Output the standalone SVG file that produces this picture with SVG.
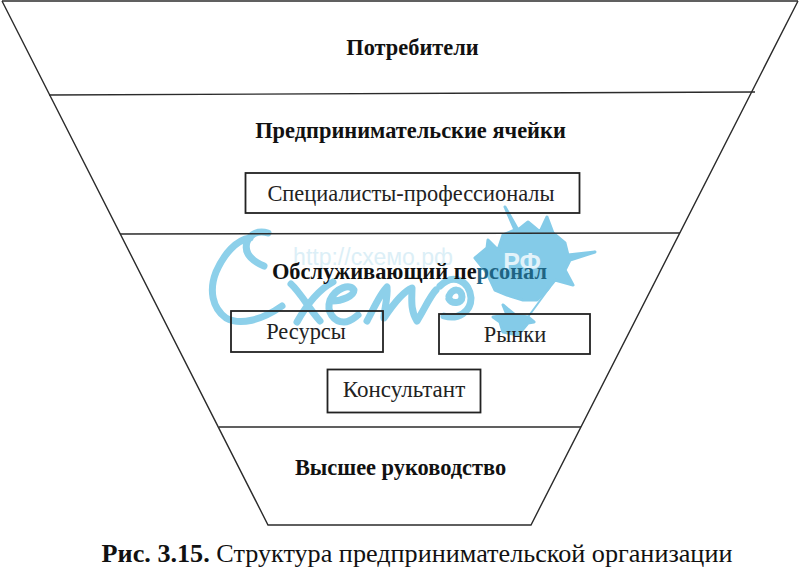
<svg xmlns="http://www.w3.org/2000/svg" width="800" height="568" viewBox="0 0 800 568">
<style>
.l{fill:none;stroke:#2b2b2b;stroke-width:1.4}
.b{fill:none;stroke:#222;stroke-width:1.8}
.h{font-family:"Liberation Serif",serif;font-weight:700;font-size:22.400px;fill:#111;text-anchor:middle}
.t{font-family:"Liberation Serif",serif;font-size:22.400px;fill:#222;text-anchor:middle}
.w{fill:none;stroke:#8dd0ea;stroke-width:7;stroke-linecap:round;stroke-linejoin:round}
.s{fill:#84cbe8;stroke:#84cbe8;stroke-width:3;stroke-linejoin:round}
</style>
<rect width="800" height="568" fill="#fff"/>
<g id="watermark">
<path class="w" d="M268 233C258 230 250 234 247 242C244 252 250 260 264 266"/>
<path class="w" d="M250 238C236 240 224 254 216 272C209 290 212 308 226 318C240 326 262 320 282 306"/>
<path class="w" d="M291 284C300 292 310 310 320 321M333 282C318 290 306 306 297 322"/>
<path class="w" d="M332 301C342 301 354 296 354 290C350 283 336 288 330 300C326 312 334 322 344 322C350 322 354 318 358 315"/>
<path class="w" d="M367 321C374 308 380 294 387 287C388 298 384 310 384 318C392 306 402 292 412 288C412 298 410 310 417 321C424 310 430 296 436 290"/>
<path class="w" d="M440 286C454 272 470 282 471 298C471 312 458 320 444 316M449 296C452 288 462 288 462 297C462 304 452 304 449 299"/>
<path class="s" d="M505 207L518 230L528 222L540 232L547 217L553 233L565 243L568 255L595 252L570 260L565 270L573 285L555 280L547 290L537 300L523 300L507 295L495 290L487 273L475 258L487 248L488 240L498 250L503 235L515 230Z"/>
<path class="s" d="M493 317L507 315L503 305L515 315L528 317L534 322L528 323L518 335L503 332L500 322Z"/>
<path d="M550 287L528 317" fill="none" stroke="#84cbe8" stroke-width="2"/>
<text x="373" y="265" font-family="Liberation Sans,sans-serif" font-size="23" fill="#dceff7" text-anchor="middle">http://схемо.рф</text>
<text x="522" y="271" font-family="Liberation Sans,sans-serif" font-size="25" font-weight="700" fill="#e3f3fa" text-anchor="middle">РФ</text>
</g>
<g id="connectors">
<path class="l" d="M2 1H798"/>
<path class="l" d="M2 1L268 525H531L798 1"/>
<path class="l" d="M49 95L755 92"/>
<path class="l" d="M120 234L680 233"/>
<path class="l" d="M219 427H581"/>
</g>
<g id="consumers"><text class="h" x="412.500" y="55">Потребители</text></g>
<g id="cells"><text class="h" x="410.500" y="138">Предпринимательские ячейки</text></g>
<g id="specialists"><rect class="b" x="245.500" y="173" width="334" height="40"/><text class="t" x="411" y="201">Специалисты-профессионалы</text></g>
<g id="staff"><text class="h" x="409.500" y="279">Обслуживающий пе<tspan fill="#1f6483">рсонал</tspan></text></g>
<g id="resources"><rect class="b" x="231" y="311" width="152" height="41"/><text class="t" x="306" y="339">Ресурсы</text></g>
<g id="markets"><rect class="b" x="439" y="314" width="151" height="40"/><text class="t" x="515" y="342">Рынки</text></g>
<g id="consultant"><rect class="b" x="327.500" y="369.500" width="153" height="43"/><text class="t" x="404" y="397" style="font-size:23px">Консультант</text></g>
<g id="management"><text class="h" x="400.500" y="475">Высшее руководство</text></g>
<g id="caption"><text x="417" y="562" font-family="Liberation Serif,serif" font-size="26.200" fill="#111" text-anchor="middle"><tspan font-weight="700">Рис. 3.15.</tspan> Структура предпринимательской организации</text></g>
</svg>
